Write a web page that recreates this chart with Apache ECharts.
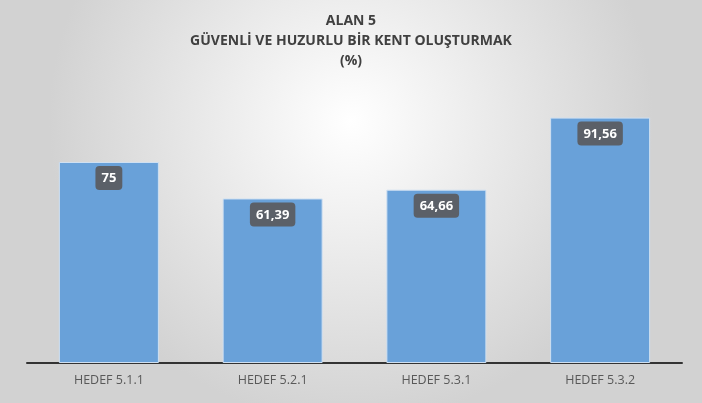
<!DOCTYPE html>
<html>
<head>
<meta charset="utf-8">
<script src="https://cdn.jsdelivr.net/npm/echarts@6/dist/echarts.min.js"></script>
<style>
html, body { margin: 0; padding: 0; }
#main { width: 702px; height: 403px; }
</style>
</head>
<body>
<div id="main"></div>
<script>
var hedefler = ["HEDEF 5.1.1", "HEDEF 5.2.1", "HEDEF 5.3.1", "HEDEF 5.3.2"];
var degerler = [75, 61.39, 64.66, 91.56];
var baslik = ["ALAN 5", "GÜVENLİ VE HUZURLU BİR KENT OLUŞTURMAK", "(%)"];

var myChart = echarts.init(document.getElementById("main"));
var option = {
    backgroundColor: new echarts.graphic.RadialGradient(0.5, 0.3, 0.75, [
        { offset: 0, color: "#ffffff" },
        { offset: 1, color: "#d2d2d2" }
    ]),
    title: {
        text: baslik.join("\n"),
        left: "center",
        top: 6,
        textStyle: {
            fontFamily: "Open Sans",
            fontSize: 14,
            fontWeight: "bold",
            color: "#404040",
            lineHeight: 20
        }
    },
    grid: {
        left: 27,
        right: 20,
        top: 95,
        bottom: 40
    },
    xAxis: {
        type: "category",
        data: hedefler,
        axisLine: { lineStyle: { color: "#333333", width: 2 } },
        axisTick: { show: false },
        axisLabel: {
            color: "#595959",
            fontFamily: "Open Sans",
            fontSize: 12.5,
            margin: 11
        }
    },
    yAxis: {
        type: "value",
        min: 0,
        max: 100,
        show: false
    },
    series: [{
        type: "bar",
        data: degerler,
        barWidth: 100,
        itemStyle: {
            color: "#69a1d9",
            borderColor: "#cfe0f2",
            borderWidth: 1
        },
        label: {
            show: true,
            position: "insideTop",
            distance: 4,
            formatter: function(p) {
                return String(p.value).replace(".", ",");
            },
            color: "#ffffff",
            fontFamily: "Open Sans",
            fontWeight: "bold",
            fontSize: 13,
            backgroundColor: "#5b6068",
            borderRadius: 4,
            padding: [6, 6, 5, 6]
        }
    }]
};
myChart.setOption(option);
</script>
</body>
</html>
